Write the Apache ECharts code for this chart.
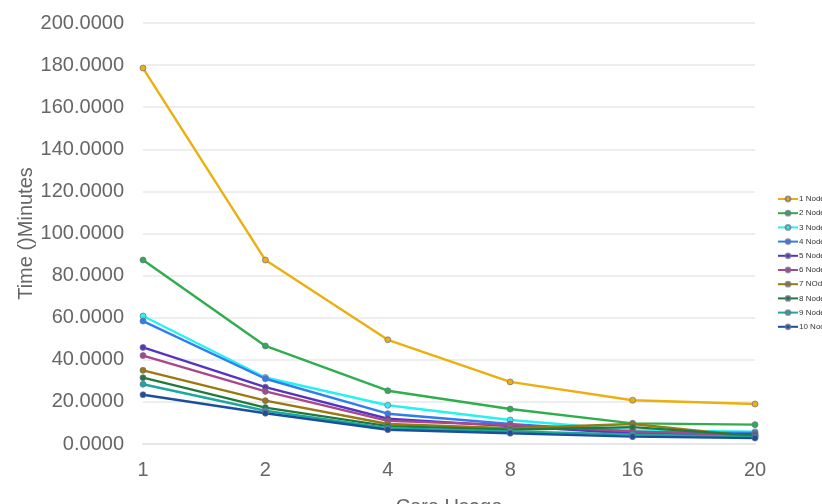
<!DOCTYPE html>
<html><head><meta charset="utf-8">
<script src="https://cdn.jsdelivr.net/npm/echarts@6/dist/echarts.min.js"></script>
<style>html,body{margin:0;padding:0;background:#fff}#c{width:822px;height:504px}</style>
</head><body><div id="c"></div>
<script>
const categories = ['1', '2', '4', '8', '16', '20'];
const seriesNames = ['1 Node', '2 Node', '3 Node', '4 Node', '5 Node', '6 Node', '7 NOde', '8 Node', '9 Node', '10 Node'];
const node1 = [178.6, 87.4, 49.5, 29.5, 20.8, 19.0];
const node2 = [87.4, 46.6, 25.3, 16.6, 9.8, 9.2];
const node3 = [60.8, 31.6, 18.4, 11.4, 6.5, 5.8];
const node4 = [58.4, 31.0, 14.4, 9.5, 5.7, 5.2];
const node5 = [45.9, 27.0, 12.0, 8.5, 5.0, 4.5];
const node6 = [42.0, 25.0, 11.0, 9.0, 6.0, 4.0];
const node7 = [35.0, 20.6, 9.5, 7.5, 9.5, 3.5];
const node8 = [31.5, 17.3, 8.5, 6.8, 8.0, 4.0];
const node9 = [28.4, 15.8, 7.5, 6.0, 4.5, 3.2];
const node10 = [23.4, 14.6, 6.8, 5.1, 3.5, 2.8];
const yTicks = [0, 20, 40, 60, 80, 100, 120, 140, 160, 180, 200];

const allData = [node1, node2, node3, node4, node5, node6, node7, node8, node9, node10];
const colors = ['#ecaf10', '#2eae4c', '#27f2f0', '#2f7ef0', '#5534c2', '#a8478a', '#9a7812', '#1f7a3c', '#1ca89c', '#1b4f9c'];
const font = 'Liberation Sans, Helvetica, Arial, sans-serif';

const chart = echarts.init(document.getElementById('c'));
chart.setOption({
  animation: false,
  color: colors,
  grid: { left: 143, right: 67, top: 23, bottom: 60, containLabel: false, outerBoundsMode: 'none' },
  legend: {
    orient: 'vertical', left: 772, top: 190,
    itemWidth: 20, itemHeight: 6, itemGap: 6.2,
    textStyle: { fontSize: 8, color: '#333', fontFamily: font, padding: [0, 0, 0, -4] },
    data: seriesNames
  },
  xAxis: {
    type: 'category', data: categories, boundaryGap: false,
    name: 'Core Usage', nameLocation: 'middle', nameGap: 53, nameMoveOverlap: false,
    nameTextStyle: { fontSize: 20, color: '#666', fontFamily: font },
    axisLine: { show: true, lineStyle: { color: '#e6e6e6', width: 2 } },
    axisTick: { show: false },
    axisLabel: { fontSize: 20, color: '#666', fontFamily: font, margin: 16 },
    splitLine: { show: false }
  },
  yAxis: {
    type: 'value', min: yTicks[0], max: yTicks[yTicks.length - 1], interval: 20,
    name: 'Time ()Minutes', nameLocation: 'middle', nameGap: 107, nameMoveOverlap: false,
    nameTextStyle: { fontSize: 20, color: '#666', fontFamily: font },
    axisLine: { show: false }, axisTick: { show: false },
    axisLabel: { fontSize: 20, color: '#666', fontFamily: font, margin: 19,
      formatter: v => v.toFixed(4) },
    splitLine: { lineStyle: { color: '#e8e8e8', width: 1.5 } }
  },
  series: seriesNames.map((n, i) => ({
    name: n, type: 'line', data: allData[i],
    symbol: 'circle', symbolSize: 6, showAllSymbol: true,
    lineStyle: { width: 2.4, color: colors[i] },
    itemStyle: { color: colors[i], borderColor: 'rgba(110,110,140,0.7)', borderWidth: 1 }
  }))
});
</script></body></html>
